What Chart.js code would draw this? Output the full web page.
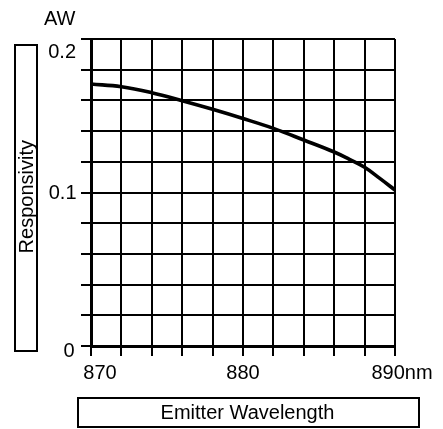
<!DOCTYPE html>
<html><head><meta charset="utf-8">
<style>html,body{margin:0;padding:0;background:#fff}canvas{display:block}</style>
<script src="https://cdn.jsdelivr.net/npm/chart.js@4.4.1/dist/chart.umd.min.js"></script>
</head><body>
<canvas id="c" width="443" height="429"></canvas>
<script>
const wavelengths = [870, 872, 874, 876, 878, 880, 882, 884, 886, 887, 888, 889, 890];
const responsivity = [0.1707, 0.1689, 0.1650, 0.1598, 0.1542, 0.1482, 0.1418, 0.1342, 0.1264, 0.1216, 0.1164, 0.1092, 0.1016];
const xTickValues = [870, 880, 890];
const xTickLabels = ['870', '880', '890nm'];
const yTickValues = [0, 0.1, 0.2];
const yTickLabels = ['0', '0.1', '0.2'];
const yUnit = 'AW';
const yTitle = 'Responsivity';
const xTitle = 'Emitter Wavelength';

const FONT = '20px "Liberation Sans", Arial, Helvetica, sans-serif';

const textPlugin = {
  id: 'textPlugin',
  afterDraw(chart) {
    const ctx = chart.ctx, xs = chart.scales.x, ys = chart.scales.y;
    ctx.save();
    ctx.fillStyle = '#000';
    ctx.strokeStyle = '#000';
    ctx.font = FONT;
    ctx.textBaseline = 'alphabetic';
    // y tick labels
    const yDy = [10.5, 6.5, 18.5];
    const yRight = [74.5, 76.5, 76];
    ctx.textAlign = 'right';
    yTickValues.forEach((v, i) => ctx.fillText(yTickLabels[i], yRight[i], ys.getPixelForValue(v) + yDy[i]));
    // x tick labels
    const xBase = 378.5;
    ctx.textAlign = 'center';
    ctx.fillText(xTickLabels[0], xs.getPixelForValue(xTickValues[0]) + 9, xBase);
    ctx.fillText(xTickLabels[1], xs.getPixelForValue(xTickValues[1]), xBase);
    ctx.textAlign = 'left';
    ctx.fillText(xTickLabels[2], xs.getPixelForValue(xTickValues[2]) - 23.5, xBase);
    // unit
    ctx.textAlign = 'right';
    ctx.fillText(yUnit, 75.5, 25);
    // y title box
    ctx.lineWidth = 2;
    ctx.strokeRect(15, 45, 22, 306);
    ctx.save();
    ctx.translate(33.3, 196.7);
    ctx.rotate(-Math.PI / 2);
    ctx.textAlign = 'center';
    ctx.fillText(yTitle, 0, 0);
    ctx.restore();
    // x title box
    ctx.strokeRect(78, 398, 341, 29);
    ctx.textAlign = 'center';
    ctx.fillText(xTitle, 247.5, 419.2);
    ctx.restore();
  }
};

new Chart(document.getElementById('c'), {
  type: 'line',
  data: {
    datasets: [{
      data: wavelengths.map((w, i) => ({ x: w, y: responsivity[i] })),
      borderColor: '#000',
      borderWidth: 3.6,
      pointRadius: 0,
      fill: false,
      tension: 0.4,
      borderCapStyle: 'round',
      borderJoinStyle: 'round'
    }]
  },
  options: {
    responsive: false,
    animation: false,
    devicePixelRatio: 1,
    layout: { padding: { left: 0, top: 39, right: 48, bottom: 83 } },
    plugins: { legend: { display: false }, tooltip: { enabled: false } },
    scales: {
      x: {
        type: 'linear', min: 870, max: 890,
        ticks: { stepSize: 2, display: false },
        grid: { color: '#000', lineWidth: 2, tickLength: 10, drawTicks: true },
        border: { display: true, color: '#000', width: 3 },
        afterFit(s) { s.height = 0; }
      },
      y: {
        type: 'linear', min: 0, max: 0.2,
        ticks: { stepSize: 0.02, display: false },
        grid: { color: '#000', lineWidth: 2, tickLength: 10, drawTicks: true },
        border: { display: true, color: '#000', width: 3 },
        afterFit(s) { s.width = 91; }
      }
    }
  },
  plugins: [textPlugin]
});
</script>
</body></html>
